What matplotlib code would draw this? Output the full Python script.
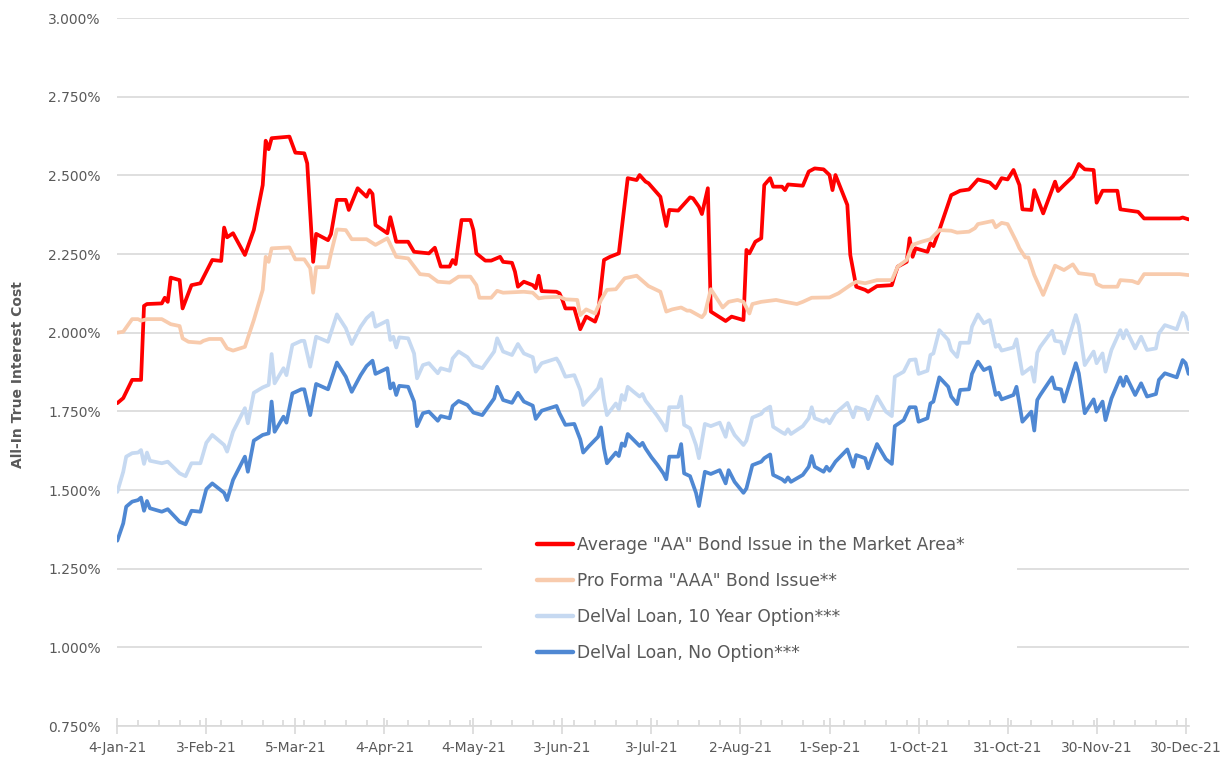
import pandas as pd
import matplotlib
matplotlib.use('Agg')
import matplotlib.pyplot as plt
import matplotlib.dates as mdates
from matplotlib.ticker import FixedLocator, FuncFormatter
from matplotlib.patches import Rectangle

# dates are stored as days after 4-Jan-2021
start = pd.Timestamp('2021-01-04')

red_label = 'Average "AA" Bond Issue in the Market Area*'
peach_label = 'Pro Forma "AAA" Bond Issue**'
light_label = 'DelVal Loan, 10 Year Option***'
dark_label = 'DelVal Loan, No Option***'

red_days = [0, 2, 5, 8, 9, 10, 15, 16, 17, 18,
            21, 22, 25, 28, 32, 35, 36, 37, 39, 43,
            46, 49, 50, 51, 52, 58, 60, 63, 64, 66,
            67, 71, 72, 74, 77, 78, 81, 84, 85, 86,
            87, 91, 92, 94, 98, 100, 105, 107, 109, 112,
            113, 114, 116, 119, 120, 121, 124, 126, 129, 130,
            133, 134, 135, 137, 140, 141, 142, 143, 148, 149,
            150, 151, 154, 156, 158, 161, 162, 164, 166, 169,
            172, 175, 176, 178, 179, 183, 184, 185, 186, 189,
            193, 194, 196, 197, 199, 200, 203, 205, 207, 211,
            212, 213, 215, 217, 218, 220, 221, 224, 225, 226,
            231, 233, 235, 238, 240, 241, 242, 246, 247, 249,
            252, 253, 256, 261, 262, 263, 266, 267, 268, 269,
            273, 274, 275, 277, 281, 284, 287, 290, 294, 296,
            298, 300, 302, 304, 305, 308, 309, 312, 316, 317,
            319, 322, 324, 326, 329, 330, 332, 337, 338, 344,
            346, 358, 359, 361]
red_vals = [1.776, 1.792, 1.850, 1.850, 2.085, 2.091, 2.093, 2.111, 2.098, 2.175,
            2.167, 2.077, 2.151, 2.157, 2.231, 2.228, 2.334, 2.303, 2.316, 2.247,
            2.326, 2.469, 2.610, 2.583, 2.618, 2.623, 2.572, 2.570, 2.538, 2.225,
            2.314, 2.294, 2.313, 2.422, 2.422, 2.390, 2.459, 2.432, 2.453, 2.441,
            2.342, 2.316, 2.367, 2.289, 2.289, 2.257, 2.252, 2.270, 2.210, 2.210,
            2.231, 2.218, 2.358, 2.358, 2.326, 2.252, 2.229, 2.229, 2.241, 2.225,
            2.222, 2.194, 2.146, 2.162, 2.151, 2.141, 2.181, 2.132, 2.130, 2.125,
            2.104, 2.077, 2.077, 2.011, 2.051, 2.035, 2.061, 2.231, 2.241, 2.252,
            2.491, 2.485, 2.501, 2.480, 2.475, 2.432, 2.384, 2.339, 2.390, 2.388,
            2.430, 2.427, 2.400, 2.377, 2.459, 2.067, 2.049, 2.037, 2.051, 2.040,
            2.263, 2.252, 2.289, 2.300, 2.469, 2.491, 2.464, 2.464, 2.453, 2.471,
            2.467, 2.512, 2.522, 2.519, 2.501, 2.453, 2.501, 2.406, 2.247, 2.146,
            2.136, 2.130, 2.148, 2.151, 2.183, 2.210, 2.225, 2.300, 2.241, 2.268,
            2.257, 2.284, 2.275, 2.326, 2.437, 2.451, 2.455, 2.487, 2.477, 2.459,
            2.491, 2.487, 2.517, 2.469, 2.392, 2.390, 2.453, 2.379, 2.480, 2.450,
            2.469, 2.496, 2.536, 2.519, 2.517, 2.413, 2.451, 2.451, 2.392, 2.384,
            2.363, 2.363, 2.366, 2.360]

peach_days = [0, 2, 5, 7, 8, 10, 15, 18, 21, 22,
              24, 28, 29, 31, 35, 37, 39, 43, 46, 49,
              50, 51, 52, 58, 60, 63, 65, 66, 67, 71,
              72, 74, 77, 79, 84, 87, 91, 94, 98, 102,
              105, 108, 112, 115, 119, 121, 122, 126, 128, 130,
              137, 140, 142, 144, 149, 151, 155, 156, 158, 161,
              163, 165, 168, 171, 175, 179, 183, 185, 187, 190,
              192, 193, 197, 198, 200, 202, 204, 206, 209, 211,
              213, 214, 217, 222, 225, 229, 231, 234, 240, 243,
              247, 249, 252, 256, 261, 263, 266, 268, 271, 274,
              277, 281, 283, 287, 289, 290, 295, 296, 298, 300,
              303, 304, 306, 307, 309, 312, 316, 319, 322, 324,
              329, 330, 332, 337, 338, 342, 344, 346, 358, 361]
peach_vals = [2.000, 2.003, 2.043, 2.043, 2.038, 2.043, 2.043, 2.027, 2.021, 1.982,
              1.971, 1.968, 1.974, 1.980, 1.980, 1.950, 1.943, 1.955, 2.040, 2.136,
              2.241, 2.225, 2.268, 2.271, 2.233, 2.233, 2.205, 2.127, 2.208, 2.208,
              2.252, 2.328, 2.326, 2.297, 2.297, 2.279, 2.300, 2.241, 2.236, 2.186,
              2.183, 2.162, 2.159, 2.178, 2.178, 2.151, 2.111, 2.111, 2.133, 2.127,
              2.130, 2.127, 2.109, 2.112, 2.114, 2.106, 2.104, 2.056, 2.074, 2.061,
              2.104, 2.136, 2.138, 2.173, 2.181, 2.148, 2.130, 2.067, 2.074, 2.080,
              2.070, 2.070, 2.049, 2.061, 2.138, 2.109, 2.080, 2.098, 2.104, 2.098,
              2.061, 2.091, 2.098, 2.104, 2.098, 2.091, 2.098, 2.111, 2.112, 2.125,
              2.151, 2.162, 2.157, 2.167, 2.167, 2.210, 2.231, 2.279, 2.289, 2.297,
              2.326, 2.324, 2.318, 2.321, 2.332, 2.345, 2.355, 2.335, 2.349, 2.345,
              2.289, 2.268, 2.239, 2.239, 2.183, 2.120, 2.213, 2.199, 2.217, 2.189,
              2.183, 2.155, 2.146, 2.146, 2.167, 2.164, 2.157, 2.186, 2.186, 2.183]

# both DelVal loan series are quoted on the same days
loan_days = [0, 2, 3, 5, 7, 8, 9, 10, 11, 15,
             17, 21, 23, 25, 28, 30, 32, 36, 37, 39,
             43, 44, 46, 49, 51, 52, 53, 56, 57, 59,
             62, 63, 65, 67, 71, 74, 77, 79, 82, 84,
             86, 87, 91, 92, 93, 94, 95, 98, 100, 101,
             103, 105, 108, 109, 112, 113, 115, 118, 120, 123,
             127, 128, 130, 133, 135, 137, 140, 141, 143, 148,
             149, 151, 154, 156, 157, 159, 162, 163, 164, 165,
             168, 169, 170, 171, 172, 174, 176, 177, 178, 180,
             182, 184, 185, 186, 189, 190, 191, 193, 195, 196,
             198, 200, 203, 205, 206, 208, 211, 212, 214, 217,
             218, 220, 221, 224, 225, 226, 227, 231, 233, 234,
             235, 238, 239, 240, 242, 246, 248, 249, 252, 253,
             256, 259, 261, 262, 265, 267, 269, 270, 273, 274,
             275, 277, 280, 281, 283, 284, 287, 288, 290, 292,
             294, 296, 297, 298, 302, 303, 305, 308, 309, 310,
             311, 315, 316, 318, 319, 323, 324, 326, 329, 330,
             332, 333, 335, 338, 339, 340, 343, 345, 347, 350,
             351, 353, 357, 359, 360, 361]
option10_vals = [1.494, 1.558, 1.606, 1.617, 1.619, 1.627, 1.583, 1.619, 1.593, 1.585,
                 1.590, 1.553, 1.544, 1.585, 1.585, 1.650, 1.675, 1.643, 1.622, 1.685,
                 1.760, 1.712, 1.809, 1.826, 1.834, 1.932, 1.839, 1.887, 1.865, 1.961,
                 1.974, 1.974, 1.892, 1.987, 1.971, 2.058, 2.014, 1.964, 2.019, 2.046,
                 2.063, 2.019, 2.038, 1.977, 1.987, 1.953, 1.985, 1.982, 1.934, 1.855,
                 1.897, 1.903, 1.871, 1.887, 1.879, 1.918, 1.940, 1.922, 1.897, 1.887,
                 1.940, 1.982, 1.940, 1.929, 1.964, 1.934, 1.922, 1.876, 1.903, 1.918,
                 1.903, 1.860, 1.865, 1.818, 1.770, 1.791, 1.823, 1.852, 1.786, 1.738,
                 1.775, 1.756, 1.802, 1.786, 1.828, 1.812, 1.797, 1.805, 1.784, 1.760,
                 1.735, 1.707, 1.689, 1.763, 1.763, 1.797, 1.707, 1.696, 1.643, 1.601,
                 1.710, 1.703, 1.714, 1.669, 1.712, 1.675, 1.643, 1.657, 1.730, 1.742,
                 1.754, 1.765, 1.701, 1.683, 1.678, 1.693, 1.678, 1.703, 1.728, 1.763,
                 1.728, 1.717, 1.725, 1.712, 1.744, 1.777, 1.731, 1.763, 1.754, 1.725,
                 1.797, 1.749, 1.735, 1.860, 1.876, 1.913, 1.915, 1.869, 1.879, 1.929,
                 1.934, 2.008, 1.977, 1.945, 1.923, 1.968, 1.968, 2.019, 2.058, 2.030,
                 2.040, 1.955, 1.961, 1.943, 1.953, 1.979, 1.869, 1.890, 1.844, 1.936,
                 1.955, 2.006, 1.974, 1.971, 1.934, 2.056, 2.024, 1.897, 1.940, 1.903,
                 1.934, 1.876, 1.945, 2.008, 1.982, 2.008, 1.950, 1.987, 1.945, 1.950,
                 1.998, 2.024, 2.011, 2.063, 2.051, 2.011]
no_option_vals = [1.339, 1.394, 1.447, 1.463, 1.468, 1.476, 1.434, 1.465, 1.442, 1.431,
                  1.439, 1.399, 1.391, 1.434, 1.431, 1.503, 1.521, 1.491, 1.468, 1.532,
                  1.606, 1.558, 1.657, 1.675, 1.680, 1.781, 1.685, 1.733, 1.714, 1.807,
                  1.820, 1.820, 1.738, 1.837, 1.820, 1.905, 1.860, 1.812, 1.865, 1.894,
                  1.911, 1.869, 1.887, 1.823, 1.839, 1.802, 1.831, 1.828, 1.781, 1.703,
                  1.744, 1.749, 1.720, 1.735, 1.728, 1.767, 1.783, 1.770, 1.746, 1.738,
                  1.791, 1.828, 1.786, 1.777, 1.809, 1.781, 1.768, 1.726, 1.752, 1.767,
                  1.744, 1.707, 1.710, 1.661, 1.619, 1.640, 1.669, 1.699, 1.632, 1.585,
                  1.619, 1.608, 1.648, 1.640, 1.678, 1.659, 1.640, 1.650, 1.632, 1.604,
                  1.580, 1.553, 1.534, 1.606, 1.606, 1.646, 1.553, 1.544, 1.491, 1.449,
                  1.558, 1.551, 1.563, 1.521, 1.563, 1.526, 1.491, 1.505, 1.579, 1.590,
                  1.601, 1.613, 1.548, 1.534, 1.526, 1.540, 1.526, 1.548, 1.574, 1.608,
                  1.574, 1.558, 1.574, 1.561, 1.590, 1.629, 1.574, 1.611, 1.601, 1.569,
                  1.646, 1.598, 1.583, 1.703, 1.722, 1.763, 1.763, 1.717, 1.728, 1.775,
                  1.781, 1.858, 1.828, 1.797, 1.773, 1.818, 1.820, 1.869, 1.908, 1.881,
                  1.890, 1.802, 1.809, 1.788, 1.802, 1.828, 1.717, 1.749, 1.689, 1.786,
                  1.802, 1.858, 1.823, 1.820, 1.781, 1.903, 1.871, 1.744, 1.788, 1.749,
                  1.781, 1.722, 1.791, 1.858, 1.831, 1.860, 1.802, 1.839, 1.797, 1.805,
                  1.850, 1.871, 1.858, 1.913, 1.903, 1.869]

tick_days = list(range(0, 361, 30))
y_ticks = [0.75, 1.0, 1.25, 1.5, 1.75, 2.0, 2.25, 2.5, 2.75, 3.0]


def to_dates(days):
    return start + pd.to_timedelta(days, unit='D')


def date_label(x, pos):
    d = mdates.num2date(x)
    return f"{d.day}-{d.strftime('%b')}-{d.strftime('%y')}"


W, H = 1231, 760
fig = plt.figure(figsize=(W / 100, H / 100), dpi=100)
# plot area in pixels: left 117, right 1189, top 18, bottom 726
ax = fig.add_axes([117.3 / W, (H - 726) / H, (1188.6 - 117.3) / W, (726 - 18) / H])

grey = '#595959'
grid = '#D9D9D9'

ax.plot(to_dates(red_days), red_vals, color='#FF0000', lw=2.7, label=red_label,
        solid_joinstyle='round', solid_capstyle='round', zorder=2)
ax.plot(to_dates(peach_days), peach_vals, color='#F8CBAD', lw=2.7, label=peach_label,
        solid_joinstyle='round', solid_capstyle='round', zorder=2)
ax.plot(to_dates(loan_days), option10_vals, color='#C6D9F1', lw=2.7, label=light_label,
        solid_joinstyle='round', solid_capstyle='round', zorder=2)
ax.plot(to_dates(loan_days), no_option_vals, color='#4F88D3', lw=2.7, label=dark_label,
        solid_joinstyle='round', solid_capstyle='round', zorder=2)

ax.set_ylim(0.75, 3.0)
ax.set_xlim(to_dates([0])[0], to_dates([361])[0])
ax.yaxis.set_major_locator(FixedLocator(y_ticks))
ax.yaxis.set_major_formatter(FuncFormatter(lambda v, p: f'{v:.3f}%'))
ax.xaxis.set_major_locator(FixedLocator(mdates.date2num(to_dates(tick_days))))
ax.xaxis.set_minor_locator(FixedLocator(mdates.date2num(to_dates(list(range(0, 362, 7))))))
ax.xaxis.set_major_formatter(FuncFormatter(date_label))

ax.set_axisbelow(True)
ax.yaxis.grid(True, color=grid, linewidth=1.2)
for s in ['left', 'right', 'top']:
    ax.spines[s].set_visible(False)
ax.spines['bottom'].set_color(grid)
ax.spines['bottom'].set_linewidth(1.2)

ax.tick_params(axis='y', length=0, pad=12, labelsize=10, labelcolor=grey)
ax.tick_params(axis='x', which='major', direction='inout', length=11, width=1.2,
               color=grid, labelsize=10, labelcolor=grey, pad=5)
ax.tick_params(axis='x', which='minor', direction='in', length=4, width=1.2, color=grid)

fig.text(18.3 / W, (H - 375) / H, 'All-In True Interest Cost', rotation=90,
         ha='center', va='center', fontsize=10, fontweight='bold', color=grey,
         family=['Liberation Sans Narrow', 'DejaVu Sans'])

# white legend panel over the gridlines
x0, x1 = (482 - 117.3) / 1071.3, (1017 - 117.3) / 1071.3
y0, y1 = (726 - 695) / 708, (726 - 505) / 708
ax.add_patch(Rectangle((x0, y0), x1 - x0, y1 - y0, transform=ax.transAxes,
                       facecolor='white', edgecolor='none', zorder=1))

leg = ax.legend(loc='center left', bbox_to_anchor=((537.3 - 117.3) / 1071.3, (726 - 599) / 708),
                frameon=False, borderpad=0, borderaxespad=0, fontsize=12.3,
                handlelength=2.1, handletextpad=0.2, labelspacing=1.05, labelcolor=grey)
for line in leg.get_lines():
    line.set_linewidth(3.2)
leg.set_zorder(5)

fig.savefig('out.png', dpi=100)
